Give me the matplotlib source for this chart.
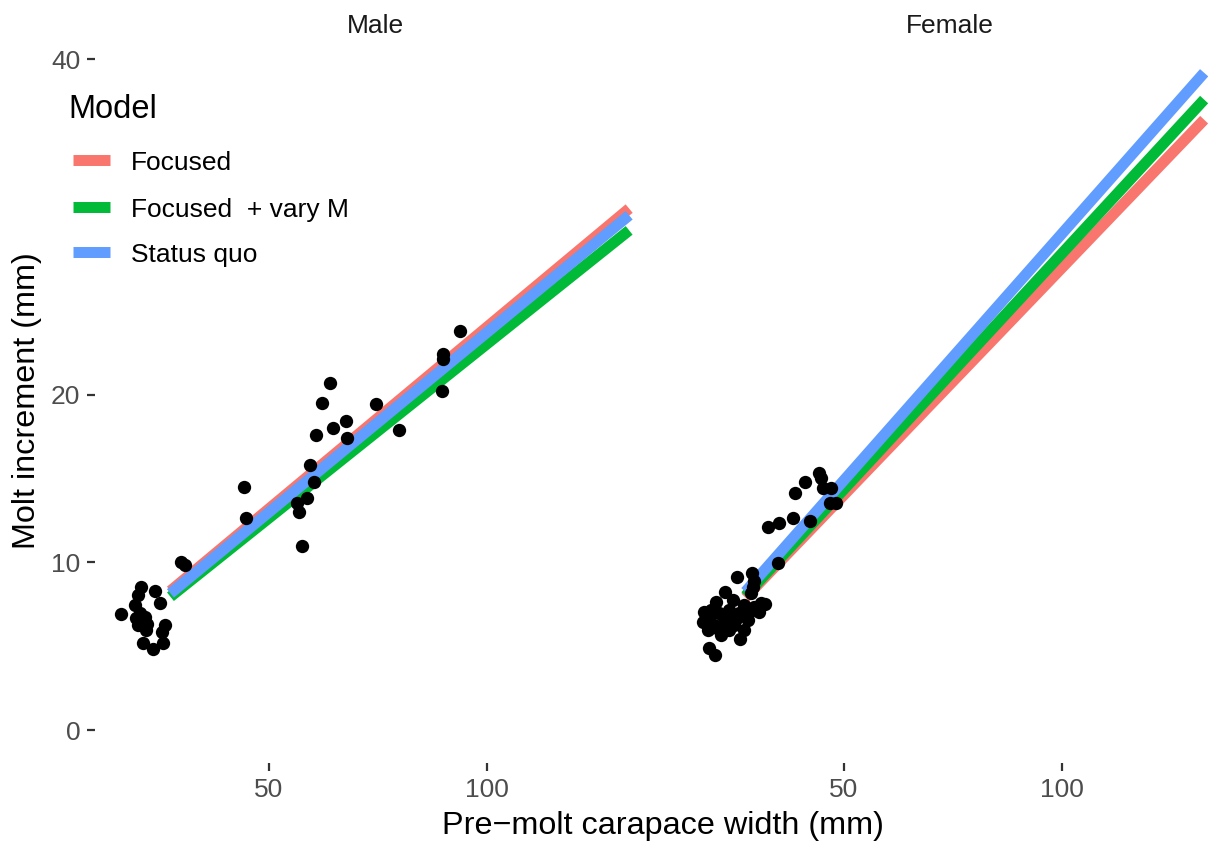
import matplotlib
matplotlib.use("Agg")
import matplotlib.pyplot as plt
from matplotlib.lines import Line2D
from matplotlib.patches import Rectangle

plt.rcParams['font.family'] = ['Liberation Sans', 'DejaVu Sans']

# observed molt increments
male_x = [20.73, 23.78, 19.95, 25.09, 19.2, 15.99, 20.34, 20.73, 19.95, 21.88,
          26.08, 25.55, 21.1, 25.69, 23.4, 21.49, 21.95, 19.43, 29.91, 30.67,
          44.27, 44.66, 56.35, 56.93, 57.61, 58.76, 60.32, 59.33, 60.87, 62.25,
          63.92, 64.68, 67.66, 67.89, 74.47, 79.75, 89.91, 89.91, 89.77, 93.74]
male_y = [8.55, 8.29, 8.05, 7.59, 7.45, 6.92, 6.96, 6.56, 6.26, 5.96,
          6.26, 5.86, 5.21, 5.21, 4.81, 6.74, 6.32, 6.68, 10.04, 9.84,
          14.51, 12.62, 13.55, 13.02, 10.97, 13.82, 14.81, 15.8, 17.59, 19.5,
          20.71, 18.01, 18.43, 17.39, 19.42, 17.92, 22.40, 22.15, 20.21, 23.81]

female_x = [44.16, 44.78, 40.95, 47.08, 45.15, 38.81, 46.69, 48.23, 38.26, 42.10,
            35.2, 32.67, 34.81, 28.93, 29.46, 25.39, 22.79, 29.07, 28.70, 31.0,
            27.92, 19.12, 18.73, 21.81, 26.24, 19.12, 20.5, 20.66, 24.47, 23.71,
            21.42, 26.01, 27.16, 29.46, 22.79, 24.86, 20.27, 27.16, 30.61, 31.99,
            17.74, 23.71, 25.55, 19.58, 22.33, 28.31, 24.40, 17.97, 20.96]
female_y = [15.34, 15.01, 14.81, 14.45, 14.41, 14.11, 13.52, 13.52, 12.62, 12.48,
            12.33, 12.12, 9.94, 9.38, 8.90, 9.11, 8.21, 8.55, 8.15, 7.56,
            6.56, 6.66, 5.96, 5.66, 5.41, 4.87, 4.47, 7.65, 7.75, 7.16,
            6.96, 6.96, 7.45, 7.33, 6.44, 6.26, 6.26, 5.96, 7.04, 7.51,
            6.44, 5.96, 6.68, 7.16, 6.80, 7.04, 6.80, 7.04, 6.08]

# fitted growth lines (pre-molt width range)
line_x = [27.4, 132.6]
models = ['Focused', 'Focused  + vary M', 'Status quo']
colors = ['#F8766D', '#00BA38', '#619CFF']
male_fit = {'Focused': [8.3, 31.1],
            'Focused  + vary M': [7.95, 29.8],
            'Status quo': [8.15, 30.7]}
female_fit = {'Focused': [7.9, 36.4],
              'Focused  + vary M': [8.0, 37.6],
              'Status quo': [8.25, 39.2]}

W, H = 1208, 846
fig = plt.figure(figsize=(W / 100, H / 100), dpi=100)


def px_rect(left, top, width, height):
    return [left / W, (H - top - height) / H, width / W, height / H]


panel_w = 560.3
panel_h = 723.0
ax_m = fig.add_axes(px_rect(95, 39.9, panel_w, panel_h))
ax_f = fig.add_axes(px_rect(670, 39.9, panel_w, panel_h))

for ax, xs, ys, fit, name in [(ax_m, male_x, male_y, male_fit, 'Male'),
                              (ax_f, female_x, female_y, female_fit, 'Female')]:
    for m, c in zip(models, colors):
        ax.plot(line_x, fit[m], color=c, lw=7.9, solid_capstyle='butt', zorder=2)
    ax.scatter(xs, ys, s=92, color='black', linewidths=0, zorder=3)
    ax.set_xlim(10.1, 138.6)
    ax.set_ylim(-1.96, 41.16)
    ax.set_xticks([50, 100])
    for sp in ax.spines.values():
        sp.set_visible(False)
    ax.tick_params(length=5.6, width=1.6, color='#333333', labelcolor='#4D4D4D',
                   labelsize=19, pad=5)
    ax.set_facecolor('none')
    fig.text((ax.get_position().x0 + ax.get_position().x1) / 2, (H - 33.3) / H, name,
             ha='center', va='baseline', fontsize=19, color='#1A1A1A')

ax_m.set_yticks([0, 10, 20, 30, 40])
ax_f.set_yticks([])

fig.text(663 / W, (H - 834) / H, 'Pre\u2212molt carapace width (mm)',
         ha='center', va='baseline', fontsize=23.3)
fig.text(35 / W, (H - 401) / H, 'Molt increment (mm)', rotation=90,
         rotation_mode='anchor', ha='center', va='baseline', fontsize=23.3)

# legend box
fig.patches.append(Rectangle((48 / W, (H - 285) / H), 320 / W, 200 / H,
                             transform=fig.transFigure, facecolor='white',
                             edgecolor='none', zorder=5))
fig.text(68 / W, (H - 118.3) / H, 'Model', fontsize=23.5, ha='left', va='baseline', zorder=6)
key_y = [160.3, 207, 252.5]
for m, c, ky in zip(models, colors, key_y):
    fig.lines.append(Line2D([73 / W, 110 / W], [(H - ky) / H] * 2, transform=fig.transFigure,
                            color=c, lw=7.9, solid_capstyle='butt', zorder=6))
    fig.text(131 / W, (H - ky - 9.5) / H, m, fontsize=19, ha='left', va='baseline', zorder=6)

fig.savefig('out.png', dpi=100)
